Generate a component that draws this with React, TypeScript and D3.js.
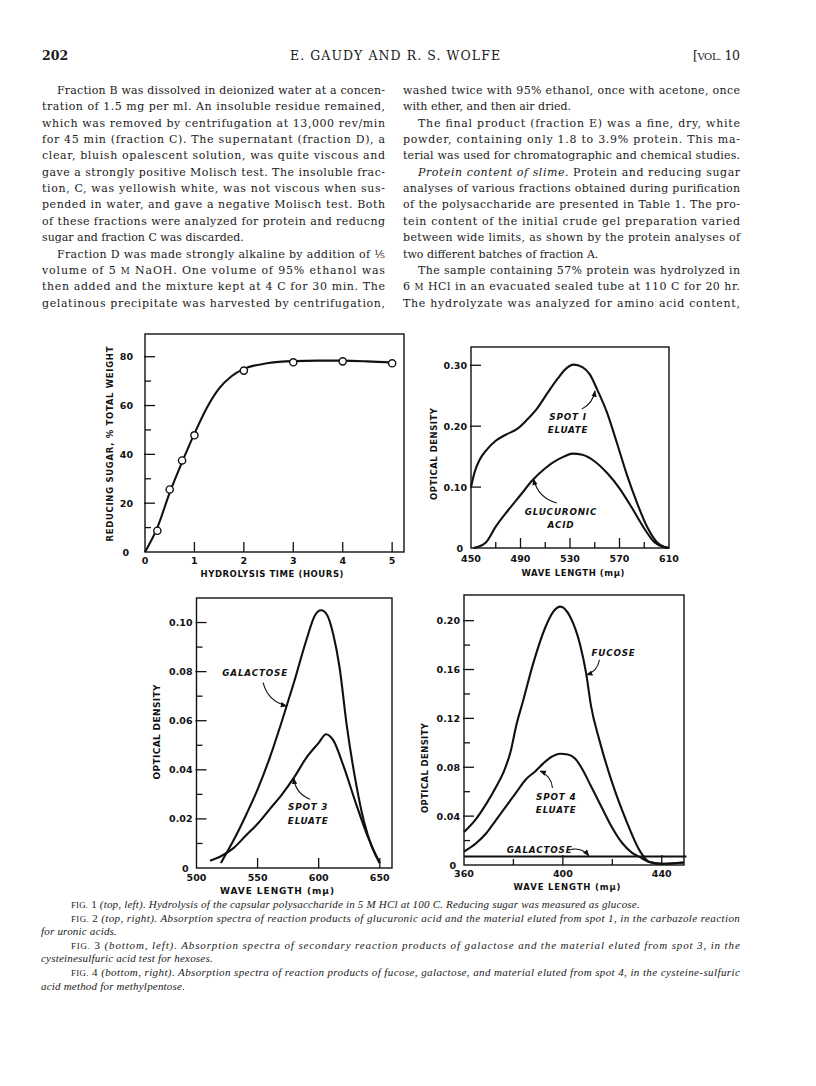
import React from "react";
import * as d3 from "d3";

// ---------- Fig. 1 : hydrolysis time vs reducing sugar ----------
const fig1PointHours = [0.25, 0.5, 0.75, 1, 2, 3, 4, 5];
const fig1PointSugar = [8.7, 25.6, 37.5, 47.8, 74.3, 77.7, 78.1, 77.3];
const fig1CurveHours = [0, 0.25, 0.5, 0.75, 1, 1.25, 1.5, 1.75, 2, 2.5, 3, 3.5, 4, 4.5, 5];
const fig1CurveSugar = [0, 10, 24.3, 36.8, 48.5, 59, 67, 72, 75, 77.4, 78.2, 78.4, 78.4, 78.1, 77.6];
const fig1XLabels = [0, 1, 2, 3, 4, 5];
const fig1YLabels = [0, 20, 40, 60, 80];
const fig1YMinor = [10, 30, 50, 70];

// ---------- Fig. 2 : glucuronic acid / spot 1 ----------
const fig2Spot1Wave = [450, 453, 457, 463, 470, 478, 487, 495, 503, 512, 520, 527, 533, 540, 546, 552, 560, 568, 576, 584, 592, 600, 606, 610];
const fig2Spot1OD = [0.1, 0.125, 0.145, 0.162, 0.176, 0.186, 0.195, 0.21, 0.228, 0.255, 0.278, 0.295, 0.301, 0.297, 0.285, 0.26, 0.222, 0.172, 0.12, 0.075, 0.036, 0.01, 0.002, 0];
const fig2GlucWave = [452, 456, 462, 470, 480, 490, 500, 510, 520, 525, 532, 540, 550, 560, 570, 580, 590, 598, 605, 610];
const fig2GlucOD = [0, 0.002, 0.009, 0.035, 0.062, 0.087, 0.112, 0.131, 0.145, 0.15, 0.155, 0.153, 0.142, 0.123, 0.098, 0.066, 0.032, 0.01, 0.002, 0];
const fig2XLabels = [450, 490, 530, 570, 610];
const fig2XMinor = [470, 510, 550, 590];
const fig2YLabels = [0, 0.1, 0.2, 0.3];

// ---------- Fig. 3 : galactose / spot 3 ----------
const fig3GalWave = [520, 525, 530, 540, 550, 560, 570, 580, 590, 597, 602, 607, 612, 617, 623, 630, 637, 644, 650];
const fig3GalOD = [0.002, 0.0065, 0.011, 0.021, 0.032, 0.045, 0.06, 0.076, 0.093, 0.103, 0.105, 0.103, 0.095, 0.082, 0.058, 0.036, 0.019, 0.008, 0.002];
const fig3SpotWave = [511, 520, 530, 540, 550, 560, 570, 580, 590, 600, 606, 612, 620, 630, 640, 650];
const fig3SpotOD = [0.003, 0.0048, 0.008, 0.013, 0.018, 0.024, 0.03, 0.037, 0.045, 0.051, 0.0545, 0.052, 0.042, 0.027, 0.013, 0.002];
const fig3XLabels = [500, 550, 600, 650];
const fig3YLabels = [0, 0.02, 0.04, 0.06, 0.08, 0.1];
const fig3YMinor = [0.01, 0.03, 0.05, 0.07, 0.09];

// ---------- Fig. 4 : fucose / spot 4 / galactose ----------
const fig4FucWave = [360, 365, 369, 373, 376, 379, 381, 384, 388, 393, 396, 399, 403, 407, 409.4, 411.4, 414.8, 420, 425.5, 431, 435, 440, 449];
const fig4FucOD = [0.027, 0.038, 0.05, 0.064, 0.076, 0.094, 0.113, 0.135, 0.165, 0.195, 0.207, 0.2115, 0.203, 0.18, 0.157, 0.13, 0.102, 0.067, 0.037, 0.012, 0.0025, 0.001, 0.002];
const fig4SpotWave = [360, 365, 369, 373, 377, 381, 385, 389, 392, 395, 399, 402, 405, 408, 411, 413.5, 416, 419, 424, 428, 431, 435, 440, 449];
const fig4SpotOD = [0.011, 0.018, 0.026, 0.037, 0.048, 0.059, 0.07, 0.077, 0.083, 0.088, 0.091, 0.0905, 0.087, 0.078, 0.066, 0.056, 0.046, 0.034, 0.018, 0.01, 0.0066, 0.0025, 0.001, 0.002];
const fig4GalWave = [360, 450];
const fig4GalOD = [0.007, 0.007];
const fig4XLabels = [360, 400, 440];
const fig4XMinor = [380, 420];
const fig4YLabels = [0, 0.04, 0.08, 0.12, 0.16, 0.2];
const fig4YMinor = [0.02, 0.06, 0.1, 0.14, 0.18];

// ---------- page text ----------
const leftColumnText = [
  "Fraction B was dissolved in deionized water at a concen-",
  "tration of 1.5 mg per ml. An insoluble residue remained,",
  "which was removed by centrifugation at 13,000 rev/min",
  "for 45 min (fraction C). The supernatant (fraction D), a",
  "clear, bluish opalescent solution, was quite viscous and",
  "gave a strongly positive Molisch test. The insoluble frac-",
  "tion, C, was yellowish white, was not viscous when sus-",
  "pended in water, and gave a negative Molisch test. Both",
  "of these fractions were analyzed for protein and reducng",
  "sugar and fraction C was discarded.",
  "Fraction D was made strongly alkaline by addition of \u2155",
  "volume of 5 ^M^ NaOH. One volume of 95% ethanol was",
  "then added and the mixture kept at 4 C for 30 min. The",
  "gelatinous precipitate was harvested by centrifugation,",
];
const leftIndentRows = [0, 10];
const leftRaggedRows = [9];

const rightColumnText = [
  "washed twice with 95% ethanol, once with acetone, once",
  "with ether, and then air dried.",
  "The final product (fraction E) was a fine, dry, white",
  "powder, containing only 1.8 to 3.9% protein. This ma-",
  "terial was used for chromatographic and chemical studies.",
  "_Protein content of slime._ Protein and reducing sugar",
  "analyses of various fractions obtained during purification",
  "of the polysaccharide are presented in Table 1. The pro-",
  "tein content of the initial crude gel preparation varied",
  "between wide limits, as shown by the protein analyses of",
  "two different batches of fraction A.",
  "The sample containing 57% protein was hydrolyzed in",
  "6 ^M^ HCl in an evacuated sealed tube at 110 C for 20 hr.",
  "The hydrolyzate was analyzed for amino acid content,",
];
const rightIndentRows = [2, 5, 11];
const rightRaggedRows = [1, 10];

const captionText = [
  "^FIG.^~ 1 ~(top, left). Hydrolysis of the capsular polysaccharide in 5 M HCl at 100 C. Reducing sugar was measured as glucose.",
  "^FIG.^~ 2 ~(top, right). Absorption spectra of reaction products of glucuronic acid and the material eluted from spot 1, in the carbazole reaction",
  "for uronic acids.",
  "^FIG.^~ 3 ~(bottom, left). Absorption spectra of secondary reaction products of galactose and the material eluted from spot 3, in the",
  "cysteinesulfuric acid test for hexoses.",
  "^FIG.^~ 4 ~(bottom, right). Absorption spectra of reaction products of fucose, galactose, and material eluted from spot 4, in the cysteine-sulfuric",
  "acid method for methylpentose.",
];
const captionIndentRows = [0, 1, 3, 5];
const captionRaggedRows = [0, 2, 4, 6];

const SANS = "'DejaVu Sans', sans-serif";
const SERIF = "'DejaVu Serif', serif";
const CAPTION = "'Liberation Serif', serif";

// small markup: _italic_  ^small caps^  ~upright~
function Rich({ text }: { text: string }) {
  const parts = text.split(/(_[^_]+_|\^[^^]+\^|~[^~]+~)/).filter((p) => p.length > 0);
  return (
    <>
      {parts.map((p, i) => {
        if (p[0] === "_") return <tspan key={i} fontStyle="italic">{p.slice(1, -1)}</tspan>;
        if (p[0] === "^") return <tspan key={i} fontStyle="normal" style={{ fontSize: "0.8em" }}>{p.slice(1, -1)}</tspan>;
        if (p[0] === "~") return <tspan key={i} fontStyle="normal">{p.slice(1, -1)}</tspan>;
        return <tspan key={i}>{p}</tspan>;
      })}
    </>
  );
}

function TextBlock({ lines, left, right, top, step, indent, indentRows, raggedRows, font, size, italic, spacing = 0 }: any) {
  return (
    <g fontFamily={font} fontSize={size} fontStyle={italic ? "italic" : "normal"} fill="#1a1a1a" letterSpacing={spacing}>
      {lines.map((ln: string, i: number) => {
        const x = left + (indentRows.includes(i) ? indent : 0);
        const justify = !raggedRows.includes(i);
        return (
          <text key={i} x={x} y={top + i * step} textLength={justify ? right - x : undefined} lengthAdjust="spacing">
            <Rich text={ln} />
          </text>
        );
      })}
    </g>
  );
}

const zip = (a: number[], b: number[]) => a.map((v, i) => [v, b[i]] as [number, number]);

function Panel(props: any) {
  const {
    box, xDomain, yDomain, xLabels, xMinor = [], yLabels, yMinor = [], yFmt, yGap, xLabelDy,
    curves, dots = [], notes = [], xTitle, yTitle, titleSize = 8.5,
  } = props;
  const xs = d3.scaleLinear().domain(xDomain).range([box.left, box.right]);
  const ys = d3.scaleLinear().domain(yDomain).range([box.bottom, box.top]);
  const line = d3.line<[number, number]>().x((d) => xs(d[0])).y((d) => ys(d[1])).curve(d3.curveMonotoneX);
  const inside = (v: number, dom: number[]) => v > dom[0] && v < dom[1];

  return (
    <g>
      <rect x={box.left} y={box.top} width={box.right - box.left} height={box.bottom - box.top}
        fill="none" stroke="#111" strokeWidth={1.4} />
      {/* ticks point inward */}
      <g stroke="#111" strokeWidth={1.3}>
        {xLabels.filter((v: number) => inside(v, xDomain)).map((v: number) => (
          <line key={"xt" + v} x1={xs(v)} x2={xs(v)} y1={box.bottom} y2={box.bottom - 10} />
        ))}
        {xMinor.map((v: number) => (
          <line key={"xm" + v} x1={xs(v)} x2={xs(v)} y1={box.bottom} y2={box.bottom - 6} />
        ))}
        {yLabels.filter((v: number) => inside(v, yDomain)).map((v: number) => (
          <line key={"yt" + v} x1={box.left - 1} x2={box.left + 10} y1={ys(v)} y2={ys(v)} />
        ))}
        {yMinor.map((v: number) => (
          <line key={"ym" + v} x1={box.left} x2={box.left + 6} y1={ys(v)} y2={ys(v)} />
        ))}
      </g>
      <g fontFamily={SANS} fontWeight="bold" fontSize={9.5} fill="#111">
        {xLabels.map((v: number) => (
          <text key={"xl" + v} x={xs(v)} y={box.bottom + xLabelDy} textAnchor="middle">{v}</text>
        ))}
        {yLabels.map((v: number) => (
          <text key={"yl" + v} x={box.left - yGap - (v === 0 ? 4 : 0)} y={ys(v) + 3.5} textAnchor="end">
            {v === 0 ? "0" : yFmt(v)}
          </text>
        ))}
      </g>
      <g fontFamily={SANS} fontWeight="bold" fontSize={titleSize} fill="#111">
        <text x={xTitle.x} y={xTitle.y} textAnchor="middle" textLength={xTitle.len} lengthAdjust="spacing">
          {xTitle.text}
        </text>
        <text transform={`translate(${yTitle.x},${yTitle.y}) rotate(-90)`} textAnchor="middle"
          textLength={yTitle.len} lengthAdjust="spacing">
          {yTitle.text}
        </text>
      </g>
      {curves.map((c: [number, number][], i: number) => (
        <path key={"c" + i} d={line(c) || ""} fill="none" stroke="#111" strokeWidth={2.1} strokeLinejoin="round" />
      ))}
      {dots.map((d: [number, number], i: number) => (
        <circle key={"d" + i} cx={xs(d[0])} cy={ys(d[1])} r={3.6} fill="#fff" stroke="#111" strokeWidth={1.4} />
      ))}
      {notes.map((n: any, i: number) => {
        const [fx, fy] = [xs(n.from[0]), ys(n.from[1])];
        const [tx, ty] = [xs(n.to[0]), ys(n.to[1])];
        const mx = (fx + tx) / 2, my = (fy + ty) / 2;
        const cx = mx - (ty - fy) * n.bend, cy = my + (tx - fx) * n.bend;
        return (
          <g key={"n" + i}>
            {n.lines.map((t: string, j: number) => (
              <text key={j} x={xs(n.at[0])} y={ys(n.at[1]) + 3.5 + j * 13.3} textAnchor="middle"
                fontFamily={SANS} fontWeight="bold" fontStyle="italic" fontSize={8.8} letterSpacing={0.8} fill="#111">
                {t}
              </text>
            ))}
            <path d={`M${fx},${fy} Q${cx},${cy} ${tx},${ty}`} fill="none" stroke="#111" strokeWidth={1.1}
              markerEnd="url(#arrowhead)" />
          </g>
        );
      })}
    </g>
  );
}

export default function App() {
  const f2 = d3.format(".2f");
  return (
    <svg width={816} height={1086} style={{ position: "absolute", left: 0, top: 0, background: "#fff" }}>
      <defs>
        <marker id="arrowhead" viewBox="0 0 10 10" refX="9" refY="5" markerWidth="6" markerHeight="6" orient="auto">
          <path d="M0,1 L10,5 L0,9 z" fill="#111" />
        </marker>
      </defs>
      <rect width={816} height={1086} fill="#fff" />

      {/* running head */}
      <g fontFamily={SERIF} fill="#1a1a1a">
        <text x={42} y={60} fontSize={12.5} fontWeight="bold">202</text>
        <text x={290} y={60} fontSize={12.5} textLength={210} lengthAdjust="spacing">E. GAUDY AND R. S. WOLFE</text>
        <text x={693} y={60} fontSize={12.5} textLength={47} lengthAdjust="spacing">
          [<tspan style={{ fontSize: "0.8em" }}>VOL.</tspan> 10
        </text>
      </g>

      <TextBlock lines={leftColumnText} left={42} right={385} top={94} step={16.35} indent={15}
        indentRows={leftIndentRows} raggedRows={leftRaggedRows} font={SERIF} size={11} />
      <TextBlock lines={rightColumnText} left={403} right={740} top={94} step={16.35} indent={15}
        indentRows={rightIndentRows} raggedRows={rightRaggedRows} font={SERIF} size={11} />

      <Panel
        box={{ left: 145, right: 404, top: 334, bottom: 552 }}
        xDomain={[0, 5.24]} yDomain={[0, 89.3]}
        xLabels={fig1XLabels} yLabels={fig1YLabels} yMinor={fig1YMinor}
        yFmt={(v: number) => String(v)} yGap={12} xLabelDy={12}
        curves={[zip(fig1CurveHours, fig1CurveSugar)]}
        dots={zip(fig1PointHours, fig1PointSugar)}
        xTitle={{ text: "HYDROLYSIS TIME (HOURS)", x: 272, y: 577, len: 143 }}
        yTitle={{ text: "REDUCING SUGAR, % TOTAL WEIGHT", x: 113, y: 444, len: 195 }}
      />

      <Panel
        box={{ left: 471, right: 669, top: 347, bottom: 548 }}
        xDomain={[450, 610]} yDomain={[0, 0.33]}
        xLabels={fig2XLabels} xMinor={fig2XMinor} yLabels={fig2YLabels}
        yFmt={f2} yGap={4} xLabelDy={14}
        curves={[zip(fig2Spot1Wave, fig2Spot1OD), zip(fig2GlucWave, fig2GlucOD)]}
        notes={[
          { lines: ["SPOT I", "ELUATE"], at: [528.4, 0.2156], from: [539.5, 0.228], to: [550.2, 0.258], bend: 0.25 },
          { lines: ["GLUCURONIC", "ACID"], at: [522.7, 0.0596], from: [519.3, 0.074], to: [500.6, 0.113], bend: -0.3 },
        ]}
        xTitle={{ text: "WAVE LENGTH (m\u03bc)", x: 573, y: 576, len: 103 }}
        yTitle={{ text: "OPTICAL DENSITY", x: 437, y: 454, len: 92 }}
      />

      <Panel
        box={{ left: 196.5, right: 392, top: 598, bottom: 868 }}
        xDomain={[500, 660]} yDomain={[0, 0.11]}
        xLabels={fig3XLabels} yLabels={fig3YLabels} yMinor={fig3YMinor}
        yFmt={f2} yGap={4} xLabelDy={13} titleSize={9}
        curves={[zip(fig3GalWave, fig3GalOD), zip(fig3SpotWave, fig3SpotOD)]}
        notes={[
          { lines: ["GALACTOSE"], at: [548, 0.0796], from: [554.5, 0.0755], to: [573.8, 0.066], bend: 0.3 },
          { lines: ["SPOT 3", "ELUATE"], at: [591.4, 0.0249], from: [593, 0.028], to: [579.6, 0.0366], bend: -0.3 },
        ]}
        xTitle={{ text: "WAVE LENGTH (m\u03bc)", x: 277, y: 894, len: 114 }}
        yTitle={{ text: "OPTICAL DENSITY", x: 160, y: 732, len: 95 }}
      />

      <Panel
        box={{ left: 464, right: 684, top: 595, bottom: 865 }}
        xDomain={[360, 449]} yDomain={[0, 0.221]}
        xLabels={fig4XLabels} xMinor={fig4XMinor} yLabels={fig4YLabels} yMinor={fig4YMinor}
        yFmt={f2} yGap={4} xLabelDy={12}
        curves={[zip(fig4FucWave, fig4FucOD), zip(fig4SpotWave, fig4SpotOD), zip(fig4GalWave, fig4GalOD)]}
        notes={[
          { lines: ["FUCOSE"], at: [420.5, 0.1736], from: [414.8, 0.168], to: [409.6, 0.1556], bend: -0.3 },
          { lines: ["SPOT 4", "ELUATE"], at: [397.3, 0.0564], from: [395.8, 0.063], to: [390.8, 0.077], bend: 0.3 },
          { lines: ["GALACTOSE"], at: [390.6, 0.0127], from: [403.4, 0.0128], to: [410.5, 0.0076], bend: -0.3 },
        ]}
        xTitle={{ text: "WAVE LENGTH (m\u03bc)", x: 567, y: 890, len: 107 }}
        yTitle={{ text: "OPTICAL DENSITY", x: 428, y: 768, len: 90 }}
      />

      <TextBlock lines={captionText} left={41} right={740} top={908} step={13.6} indent={30}
        indentRows={captionIndentRows} raggedRows={captionRaggedRows} font={CAPTION} size={11} spacing={0.2} italic />
    </svg>
  );
}
